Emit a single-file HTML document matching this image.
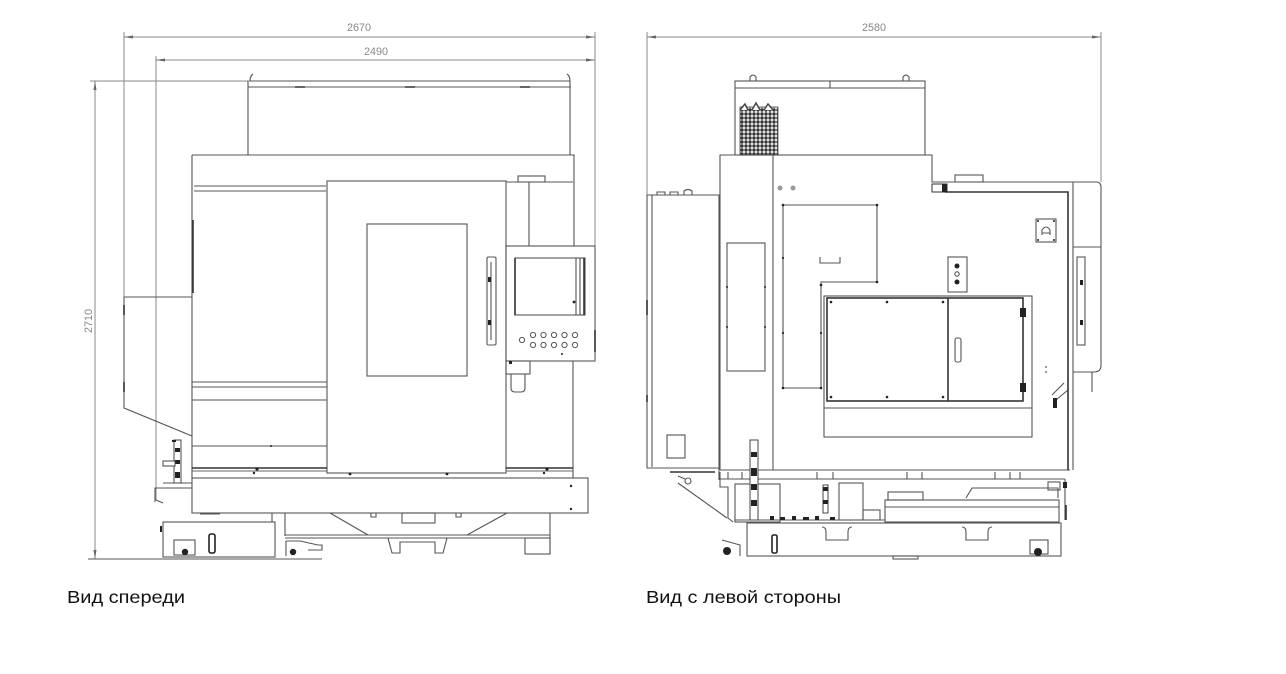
<!DOCTYPE html>
<html><head><meta charset="utf-8"><style>
html,body{margin:0;padding:0;background:#fff;}
svg{display:block;}
</style></head><body>
<svg width="1286" height="674" viewBox="0 0 1286 674" xmlns="http://www.w3.org/2000/svg">
<defs>
<pattern id="mesh" x="0" y="0" width="4" height="4" patternUnits="userSpaceOnUse">
<rect width="4" height="4" fill="#fff"/>
<circle cx="2" cy="2" r="1.7" fill="#333"/>
</pattern>
</defs>
<rect width="1286" height="674" fill="#fff"/>

<!-- ================= FRONT VIEW ================= -->
<g stroke="#888" stroke-width="1" fill="none">
<path d="M124 37 H595 M156 60 H595"/>
<path d="M124 32 V297 M156 56 V500 M595 32 V246"/>
<path d="M90 81 H250 M95 81 V559"/>
</g>
<g fill="#666">
<polygon points="124,37 133,35.5 133,38.5"/>
<polygon points="595,37 586,35.5 586,38.5"/>
<polygon points="156,60 165,58.5 165,61.5"/>
<polygon points="595,60 586,58.5 586,61.5"/>
<polygon points="95,81 93.5,90 96.5,90"/>
<polygon points="95,559 93.5,550 96.5,550"/>
</g>
<g font-family="Liberation Sans, sans-serif" font-size="11" fill="#888">
<text x="347" y="31" textLength="24" lengthAdjust="spacingAndGlyphs">2670</text>
<text x="364" y="55" textLength="24" lengthAdjust="spacingAndGlyphs">2490</text>
<text x="0" y="0" transform="translate(92,333) rotate(-90)" textLength="24" lengthAdjust="spacingAndGlyphs">2710</text>
</g>

<g stroke="#555" stroke-width="1.1" fill="none">
<!-- left side hopper -->
<path d="M124 297 H192 M124 297 V408 L192 436"/>
<!-- enclosure top -->
<path d="M250 81 H570 M248 87 H571 M248 81 V155 M570 81 V155"/>
<path d="M250 81 Q250 76 253 74 M570 81 Q570 76 567 74"/>
<!-- main box -->
<path d="M192 155 H574 V246 M192 155 V478"/>
<path d="M194 186 H326 M194 191 H326"/>
<!-- center door -->
<rect x="327" y="181" width="179" height="292"/>
<rect x="367" y="224" width="100" height="152"/>
<rect x="487" y="257" width="9" height="88" rx="1.5"/>
<path d="M491 262 V340"/>
<!-- right strip -->
<path d="M506 182 H573 M529 182 V246"/>
<rect x="518" y="176" width="27" height="6"/>
<!-- control panel -->
<rect x="506" y="246" width="89" height="115"/>
<rect x="515" y="258" width="70" height="57"/>
<path d="M576 258 V315 M580 258 V315"/>
<rect x="506" y="361" width="24" height="13"/>
<path d="M511 374 V388 Q511 392 515 392 H521 Q525 392 525 388 V374"/>
<path d="M573 361 V478"/>
<!-- left panel lines -->
<path d="M192 382 H327 M192 387 H327 M192 400 H327 M192 446 H327"/>
<!-- base -->
<rect x="192" y="478" width="396" height="35"/>
<path d="M200 514 H220 M272 513 V522 M285 513 V536"/>
<path d="M330 513 L368 535 M507 513 L467 535"/>
<path d="M285 535 H550 M285 538 H550"/>
<path d="M388 538 L392 553 H400 V542 H435 V553 H443 L447 538"/>
<rect x="402" y="513" width="33" height="10"/>
<path d="M371 513 V517 H376 V513 M456 513 V517 H461 V513"/>
<rect x="525" y="538" width="25" height="16"/>
<path d="M550 513 V554"/>
<!-- cart -->
<rect x="163" y="522" width="112" height="35"/>
<rect x="174" y="540" width="21" height="15"/>
<path d="M286 541 H300 L318 545 H322 V550 H308 M286 541 V556"/>
<path d="M156 500 L163 503"/>
<path d="M155 502 V488 H192 M163 483 H192"/>
<path d="M88 559 H322"/>
</g>
<g stroke="#333" stroke-width="1.6" fill="none">
<path d="M192 468 H327 M506 468 H573"/>
<path d="M193 220 V293"/>
<path d="M595 330 V352"/>
<path d="M124 305 V315 M124 382 V392"/>
<path d="M515 258 V315 M584 258 V315"/>
<path d="M295 87 H305 M405 87 H415 M520 87 H530"/>
</g>
<g stroke="#666" stroke-width="1" fill="none">
<path d="M192 471 H327 M506 471 H573"/>
</g>
<g fill="#fff" stroke="#555" stroke-width="1">
<circle cx="522" cy="340" r="2.6"/>
<circle cx="533" cy="335" r="2.6"/><circle cx="543.5" cy="335" r="2.6"/><circle cx="554" cy="335" r="2.6"/><circle cx="564.5" cy="335" r="2.6"/><circle cx="575" cy="335" r="2.6"/>
<circle cx="533" cy="345" r="2.6"/><circle cx="543.5" cy="345" r="2.6"/><circle cx="554" cy="345" r="2.6"/><circle cx="564.5" cy="345" r="2.6"/><circle cx="575" cy="345" r="2.6"/>
</g>
<g fill="#222">
<circle cx="562" cy="354" r="1"/>
<circle cx="257" cy="469" r="1.6"/><circle cx="254" cy="473" r="1.2"/>
<circle cx="350" cy="474" r="1.4"/><circle cx="447" cy="474" r="1.4"/>
<circle cx="547" cy="469" r="1.6"/><circle cx="544" cy="473" r="1.2"/>
<circle cx="271" cy="446" r="1"/><circle cx="571" cy="486" r="1.2"/><circle cx="571" cy="509" r="1.2"/>
<circle cx="574" cy="302" r="1.4"/>
<rect x="488" y="277" width="3" height="5"/><rect x="488" y="320" width="3" height="5"/>
<rect x="509" y="361" width="3" height="3"/>
<circle cx="185" cy="552" r="3.2"/><circle cx="293" cy="552" r="3.2"/>
<rect x="209" y="534" width="6" height="19" rx="2" fill="none" stroke="#222" stroke-width="1.6"/>
<rect x="174" y="440" width="7" height="43" fill="#fff" stroke="#444" stroke-width="1"/>
<rect x="175" y="448" width="5" height="4"/><rect x="175" y="460" width="5" height="4"/><rect x="175" y="472" width="5" height="6"/>
<rect x="163" y="461" width="12" height="5" fill="#fff" stroke="#444" stroke-width="1"/>
<rect x="172" y="440" width="4" height="2"/>
<rect x="160" y="526" width="2" height="6"/>
</g>

<!-- ================= SIDE VIEW ================= -->
<g stroke="#888" stroke-width="1" fill="none">
<path d="M647 37 H1101 M647 32 V195 M1101 32 V182"/>
</g>
<g fill="#666">
<polygon points="647,37 656,35.5 656,38.5"/>
<polygon points="1101,37 1092,35.5 1092,38.5"/>
</g>
<text x="862" y="31" font-family="Liberation Sans, sans-serif" font-size="11" fill="#888" textLength="24" lengthAdjust="spacingAndGlyphs">2580</text>

<g stroke="#555" stroke-width="1.1" fill="none">
<!-- top box -->
<rect x="735" y="81" width="190" height="74"/>
<path d="M735 88 H925 M830 81 V88"/>
<path d="M750 81 V77 Q753 73 756 77 V81 M903 81 V77 Q906 73 909 77 V81"/>
<!-- column -->
<path d="M720 470 V155 H932 V182 H1096 Q1101 182 1101 187 V365 Q1101 372 1094 372 H1073"/>
<path d="M773 155 V470"/>
<path d="M1073 182 V470 M1073 247 H1101 M1092 372 V392"/>
<rect x="955" y="175" width="28" height="7"/>
<!-- left cabinet -->
<path d="M647 195 H719 V480 M647 195 V468 H720 M652 195 V467"/>
<path d="M657 195 V192 H665 V195 M670 195 V192 H678 V195 M684 195 V191 Q688 188 692 191 V195"/>
<rect x="667" y="435" width="18" height="23"/>
<!-- small window -->
<rect x="727" y="243" width="38" height="128"/>
<!-- L panel -->
<path d="M783 205 H877 V282 H821 V388 H783 Z"/>
<path d="M820 257 V263 H840 V257"/>
<!-- icon box -->
<rect x="1036" y="219" width="20" height="23"/>
<path d="M1042 235 V230 Q1046 224 1050 230 V235 M1042 233 H1050"/>
<!-- button box -->
<rect x="948" y="257" width="19" height="35"/>
<!-- window assembly -->
<rect x="824" y="296" width="208" height="141"/>
<path d="M824 408 H1032"/>
<rect x="955" y="338" width="6" height="24" rx="2"/>
<path d="M1052 395 L1064 383 M1056 400 L1068 390"/>
<rect x="1077" y="257" width="8" height="88"/>
<!-- base -->
<path d="M720 470 H1070 M720 479 H1065 M720 472 V487 H728 V518 L733 522"/>
<path d="M728 472 V479 H742 V472 M817 472 V479 M833 472 V479 M907 472 V479 H922 V472 M995 472 V479 H1010 V472 M1020 472 V479"/>
<path d="M678 476 L685 479"/>
<circle cx="688" cy="481" r="3"/>
<path d="M678 483 L727 518"/>
<!-- cart -->
<rect x="747" y="523" width="314" height="33"/>
<path d="M822 527 Q826 527 826 532 V540 H848 V532 Q848 527 852 527 M962 527 Q966 527 966 532 V540 H988 V532 Q988 527 992 527"/>
<rect x="1030" y="540" width="18" height="14"/>
<path d="M722 540 L740 545 V556"/>
<rect x="893" y="556" width="25" height="3"/>
<!-- mid components -->
<rect x="735" y="484" width="45" height="38"/>
<rect x="839" y="483" width="24" height="37"/>
<rect x="863" y="510" width="17" height="10"/>
<rect x="885" y="500" width="174" height="22"/>
<path d="M885 507 H1059 M966 498 L972 488 H1058 V498 M735 520 H885 M1065 479 V520"/>
<rect x="888" y="492" width="35" height="8"/>
<rect x="1048" y="482" width="12" height="8"/>
</g>
<g stroke="#333" stroke-width="1.6" fill="none">
<path d="M945 192 H1068 V470"/>
<rect x="827" y="298" width="196" height="103"/>
<path d="M948 298 V401"/>
<path d="M670 472 H715"/>
<path d="M647 300 V315 M647 395 V402"/>
<path d="M1066 505 V520"/>
</g>
<rect x="740" y="107" width="38" height="48" fill="url(#mesh)" stroke="#444" stroke-width="0.8"/>
<path d="M740 110 L745 104 L748 110 M752 110 L756 103 L760 110 M764 110 L768 104 L773 110" stroke="#444" stroke-width="1.5" fill="#fff"/>
<g fill="#222">
<circle cx="780" cy="188" r="2.5" fill="#999"/><circle cx="793" cy="188" r="2.5" fill="#999"/>
<rect x="932" y="184" width="15" height="8" fill="#fff" stroke="#333"/><rect x="942" y="184" width="5" height="8"/>
<circle cx="957" cy="266" r="2.5"/><circle cx="957" cy="274" r="2.2" fill="#fff" stroke="#444"/><circle cx="957" cy="282" r="2.5"/>
<circle cx="831" cy="302" r="1.3"/><circle cx="887" cy="302" r="1.3"/><circle cx="943" cy="302" r="1.3"/>
<circle cx="831" cy="397" r="1.3"/><circle cx="887" cy="397" r="1.3"/><circle cx="943" cy="397" r="1.3"/>
<rect x="1020" y="308" width="6" height="9"/><rect x="1020" y="383" width="6" height="9"/>
<rect x="1053" y="398" width="4" height="10"/>
<circle cx="1046" cy="367" r="0.8"/><circle cx="1046" cy="372" r="0.8"/>
<circle cx="783" cy="205" r="1.3"/><circle cx="877" cy="205" r="1.3"/><circle cx="877" cy="282" r="1.3"/><circle cx="821" cy="285" r="1.3"/><circle cx="783" cy="388" r="1.3"/><circle cx="821" cy="388" r="1.3"/>
<circle cx="783" cy="258" r="1.1"/><circle cx="783" cy="333" r="1.1"/><circle cx="821" cy="333" r="1.1"/>
<circle cx="727" cy="287" r="1"/><circle cx="765" cy="287" r="1"/><circle cx="727" cy="327" r="1"/><circle cx="765" cy="327" r="1"/>
<circle cx="1038" cy="221" r="1"/><circle cx="1054" cy="221" r="1"/><circle cx="1038" cy="240" r="1"/><circle cx="1054" cy="240" r="1"/>
<rect x="1080" y="280" width="3" height="5"/><rect x="1080" y="320" width="3" height="5"/>
<circle cx="727" cy="551" r="4"/><circle cx="1038" cy="552" r="4"/>
<rect x="772" y="535" width="5" height="18" rx="1.5" fill="none" stroke="#222" stroke-width="1.6"/>
<rect x="750" y="440" width="8" height="80" fill="#fff" stroke="#444"/>
<rect x="751" y="452" width="6" height="5"/><rect x="751" y="468" width="6" height="8"/><rect x="751" y="484" width="6" height="6"/><rect x="751" y="500" width="6" height="6"/>
<rect x="823" y="485" width="5" height="28" fill="#fff" stroke="#444"/>
<rect x="823" y="487" width="5" height="4"/><rect x="823" y="500" width="5" height="4"/>
<rect x="770" y="516" width="4" height="4"/><rect x="780" y="517" width="5" height="3"/><rect x="792" y="516" width="4" height="4"/><rect x="803" y="517" width="6" height="3"/><rect x="815" y="516" width="4" height="4"/><rect x="830" y="517" width="5" height="3"/>
<rect x="1063" y="482" width="4" height="6"/>
</g>

<!-- captions -->
<g font-family="Liberation Sans, 'DejaVu Sans', sans-serif" font-size="17.5" fill="#111">
<text x="67" y="603" textLength="118" lengthAdjust="spacingAndGlyphs">Вид спереди</text>
<text x="646" y="603" textLength="195" lengthAdjust="spacingAndGlyphs">Вид с левой стороны</text>
</g>
</svg>
</body></html>
